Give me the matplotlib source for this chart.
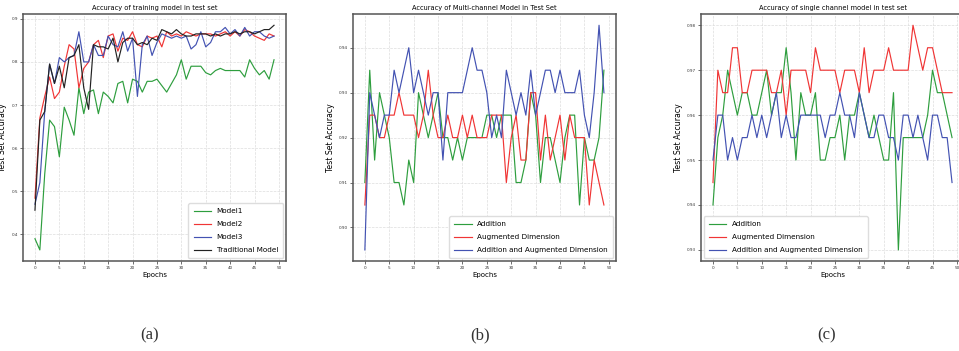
import matplotlib
matplotlib.use("Agg")
import matplotlib.pyplot as plt
import numpy as np

epochs = np.arange(50)

# (a) accuracy of the training models
model1 = [0.39, 0.364, 0.54, 0.665, 0.65, 0.58, 0.695, 0.665, 0.63, 0.74,
          0.68, 0.73, 0.735, 0.68, 0.73, 0.72, 0.705, 0.75, 0.755, 0.705,
          0.76, 0.755, 0.73, 0.755, 0.755, 0.76, 0.745, 0.73, 0.75, 0.77,
          0.805, 0.76, 0.79, 0.79, 0.79, 0.775, 0.77, 0.78, 0.785, 0.78,
          0.78, 0.78, 0.78, 0.765, 0.805, 0.785, 0.77, 0.78, 0.76, 0.805]
model2 = [0.484, 0.67, 0.72, 0.765, 0.715, 0.73, 0.79, 0.84, 0.83, 0.74,
          0.785, 0.80, 0.84, 0.85, 0.81, 0.86, 0.865, 0.825, 0.855, 0.85,
          0.87, 0.84, 0.835, 0.86, 0.855, 0.86, 0.835, 0.87, 0.86, 0.865,
          0.86, 0.87, 0.865, 0.86, 0.865, 0.865, 0.865, 0.86, 0.865, 0.87,
          0.86, 0.87, 0.86, 0.875, 0.87, 0.86, 0.855, 0.85, 0.865, 0.86]
model3 = [0.47, 0.52, 0.685, 0.795, 0.75, 0.81, 0.80, 0.81, 0.815, 0.87,
          0.80, 0.80, 0.84, 0.815, 0.815, 0.86, 0.84, 0.835, 0.87, 0.825,
          0.855, 0.72, 0.84, 0.86, 0.815, 0.845, 0.865, 0.86, 0.855, 0.86,
          0.855, 0.86, 0.83, 0.84, 0.87, 0.835, 0.845, 0.87, 0.87, 0.88,
          0.865, 0.875, 0.86, 0.88, 0.86, 0.87, 0.87, 0.86, 0.855, 0.86]
traditional = [0.456, 0.665, 0.685, 0.795, 0.75, 0.79, 0.74, 0.81, 0.815, 0.84,
               0.74, 0.69, 0.84, 0.835, 0.835, 0.83, 0.855, 0.80, 0.845, 0.855,
               0.855, 0.84, 0.845, 0.84, 0.855, 0.85, 0.875, 0.87, 0.865, 0.875,
               0.865, 0.86, 0.86, 0.865, 0.865, 0.865, 0.86, 0.865, 0.86, 0.865,
               0.865, 0.87, 0.865, 0.87, 0.87, 0.865, 0.87, 0.875, 0.875, 0.885]

# (b) multi-channel model
multi_add = [0.91, 0.935, 0.915, 0.93, 0.925, 0.92, 0.91, 0.91, 0.905, 0.915,
             0.91, 0.93, 0.925, 0.92, 0.925, 0.93, 0.92, 0.92, 0.915, 0.92,
             0.915, 0.92, 0.92, 0.92, 0.92, 0.925, 0.925, 0.92, 0.925, 0.925,
             0.925, 0.91, 0.91, 0.915, 0.93, 0.925, 0.91, 0.92, 0.92, 0.915,
             0.91, 0.92, 0.925, 0.925, 0.905, 0.92, 0.915, 0.915, 0.92, 0.935]
multi_aug = [0.905, 0.925, 0.925, 0.92, 0.92, 0.925, 0.925, 0.93, 0.925, 0.925,
             0.925, 0.92, 0.925, 0.935, 0.925, 0.92, 0.92, 0.925, 0.92, 0.92,
             0.925, 0.92, 0.925, 0.92, 0.92, 0.92, 0.925, 0.925, 0.925, 0.91,
             0.92, 0.925, 0.915, 0.915, 0.93, 0.93, 0.915, 0.925, 0.915, 0.92,
             0.925, 0.915, 0.925, 0.92, 0.92, 0.92, 0.905, 0.915, 0.91, 0.905]
multi_both = [0.895, 0.93, 0.925, 0.92, 0.925, 0.925, 0.935, 0.93, 0.935, 0.94,
              0.93, 0.935, 0.93, 0.925, 0.93, 0.93, 0.915, 0.93, 0.93, 0.93,
              0.93, 0.935, 0.94, 0.935, 0.935, 0.93, 0.92, 0.925, 0.92, 0.935,
              0.93, 0.925, 0.93, 0.925, 0.935, 0.925, 0.93, 0.935, 0.935, 0.93,
              0.935, 0.93, 0.93, 0.93, 0.935, 0.925, 0.92, 0.93, 0.945, 0.93]

# (c) single channel model
single_add = [0.94, 0.955, 0.96, 0.97, 0.965, 0.96, 0.965, 0.965, 0.96, 0.96,
              0.965, 0.97, 0.96, 0.965, 0.965, 0.975, 0.965, 0.95, 0.965, 0.96,
              0.96, 0.965, 0.95, 0.95, 0.955, 0.955, 0.96, 0.95, 0.96, 0.96,
              0.965, 0.96, 0.955, 0.96, 0.955, 0.95, 0.95, 0.965, 0.93, 0.955,
              0.955, 0.955, 0.955, 0.955, 0.96, 0.97, 0.965, 0.965, 0.96, 0.955]
single_aug = [0.945, 0.97, 0.965, 0.965, 0.975, 0.975, 0.965, 0.965, 0.97, 0.97,
              0.97, 0.97, 0.965, 0.965, 0.97, 0.96, 0.97, 0.97, 0.97, 0.97,
              0.965, 0.975, 0.97, 0.97, 0.97, 0.97, 0.965, 0.97, 0.97, 0.97,
              0.965, 0.975, 0.965, 0.97, 0.97, 0.97, 0.975, 0.97, 0.97, 0.97,
              0.97, 0.98, 0.975, 0.97, 0.975, 0.975, 0.97, 0.965, 0.965, 0.965]
single_both = [0.95, 0.96, 0.96, 0.95, 0.955, 0.95, 0.955, 0.955, 0.96, 0.955,
               0.96, 0.955, 0.96, 0.965, 0.955, 0.96, 0.955, 0.955, 0.96, 0.96,
               0.96, 0.96, 0.96, 0.955, 0.96, 0.96, 0.965, 0.96, 0.96, 0.955,
               0.965, 0.96, 0.955, 0.955, 0.96, 0.96, 0.955, 0.955, 0.95, 0.96,
               0.96, 0.955, 0.96, 0.955, 0.95, 0.96, 0.96, 0.955, 0.955, 0.945]

GREEN, RED, BLUE, BLACK = "#2e9e3e", "#f03535", "#4352b2", "#222222"

panels = [
    dict(left=0.024, title="Accuracy of training model in test set",
         series=[(model1, "Model1", GREEN), (model2, "Model2", RED),
                 (model3, "Model3", BLUE), (traditional, "Traditional Model", BLACK)],
         yticks=[0.4, 0.5, 0.6, 0.7, 0.8, 0.9], fmt="{:.1f}", loc="lower right", tag="(a)", tagx=0.156),
    dict(left=0.368, title="Accuracy of Multi-channel Model in Test Set",
         series=[(multi_add, "Addition", GREEN), (multi_aug, "Augmented Dimension", RED),
                 (multi_both, "Addition and Augmented Dimension", BLUE)],
         yticks=[0.90, 0.91, 0.92, 0.93, 0.94], fmt="{:.2f}", loc="lower right", tag="(b)", tagx=0.501),
    dict(left=0.731, title="Accuracy of single channel model in test set",
         series=[(single_add, "Addition", GREEN), (single_aug, "Augmented Dimension", RED),
                 (single_both, "Addition and Augmented Dimension", BLUE)],
         yticks=[0.93, 0.94, 0.95, 0.96, 0.97, 0.98], fmt="{:.2f}", loc="lower left", tag="(c)", tagx=0.862),
]

fig = plt.figure(figsize=(9.59, 3.51), dpi=100)

for p in panels:
    ax = fig.add_axes([p["left"], 0.256, 0.2742, 0.704])
    for vals, name, col in p["series"]:
        ax.plot(epochs, vals, color=col, lw=0.85, label=name)
    ax.set_title(p["title"], fontsize=4.8, pad=3)
    ax.set_xlabel("Epochs", fontsize=5, labelpad=1.5)
    ax.set_ylabel("Test Set Accuracy", fontsize=5.6, labelpad=3)
    ax.set_xticks(range(0, 51, 5))
    ax.set_yticks(p["yticks"])
    ax.set_yticklabels([p["fmt"].format(v) for v in p["yticks"]])
    ax.tick_params(labelsize=3, length=2, width=0.5, pad=1.5, colors="#333333")
    ax.grid(True, ls="--", lw=0.5, color="#dddddd")
    for s in ax.spines.values():
        s.set_color("#555555")
        s.set_linewidth(1.1)
    ax.legend(loc=p["loc"], fontsize=5.2, handlelength=2.4, framealpha=1,
              edgecolor="#dddddd", borderpad=0.7, labelspacing=0.95,
              borderaxespad=0.4)
    fig.text(p["tagx"], 0.045, p["tag"], ha="center", va="center",
             fontsize=12, family="Liberation Serif", color="#333333")

fig.savefig("out.png", dpi=100)
